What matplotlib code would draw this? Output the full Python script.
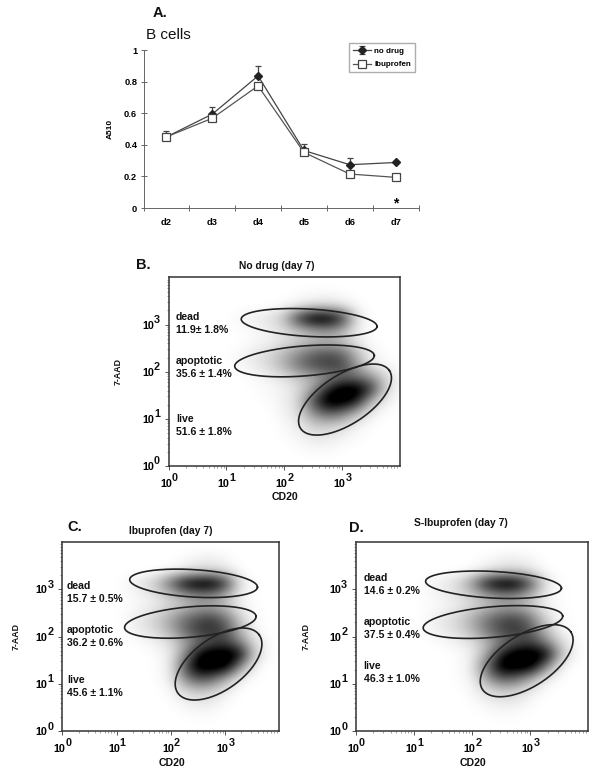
import numpy as np
import matplotlib
matplotlib.use('Agg')
import matplotlib.pyplot as plt
from matplotlib.ticker import FixedLocator, FixedFormatter
from matplotlib.transforms import ScaledTranslation

plt.rcParams['font.family'] = ['Liberation Sans', 'DejaVu Sans']
plt.rcParams['font.weight'] = 'bold'

W, H = 600, 777

# ---------- Panel A data ----------
days = ['d2', 'd3', 'd4', 'd5', 'd6', 'd7']
no_drug = [0.45, 0.594, 0.836, 0.364, 0.274, 0.288]
no_drug_err = [0.04, 0.048, 0.061, 0.04, 0.044, 0.0]
ibuprofen = [0.45, 0.568, 0.773, 0.352, 0.215, 0.194]

# ---------- Flow panels: density read on a grid (darkness 0..1) ----------
dens_x = [1.0, 1.25, 1.5, 1.75, 2.0, 2.25, 2.5, 2.75, 3.0, 3.25, 3.5, 3.75, 4.0]
dens_y = [3.88, 3.63, 3.38, 3.13, 2.88, 2.63, 2.38, 2.13, 1.88, 1.63, 1.38, 1.13, 0.88, 0.63, 0.38, 0.13]

density_b = [
    [0, 0, 0, 0, 0, 0, 0, 0, 0, 0, 0, 0, 0],
    [0, 0, 0, 0, 0, .01, .02, .02, .01, 0, 0, 0, 0],
    [0, 0, 0, 0, .02, .06, .12, .15, .10, .03, 0, 0, 0],
    [0, .03, .06, .10, .22, .72, 1.0, 1.0, .75, .10, 0, 0, 0],
    [0, .01, .03, .06, .12, .22, .32, .38, .28, .06, .01, 0, 0],
    [0, 0, .02, .04, .10, .16, .22, .25, .20, .08, .01, 0, 0],
    [0, .03, .08, .14, .25, .40, .55, .60, .55, .25, .04, .01, 0],
    [0, .03, .07, .14, .28, .48, .62, .68, .65, .35, .08, .03, 0],
    [0, 0, .02, .05, .10, .20, .28, .38, .50, .50, .38, .15, .02],
    [0, 0, .01, .02, .05, .12, .32, .75, 1.0, 1.0, .72, .15, .02],
    [0, 0, 0, .02, .05, .14, .62, 1.0, 1.0, .82, .25, .05, .01],
    [0, 0, 0, 0, .04, .12, .40, .58, .50, .25, .06, .01, 0],
    [0, 0, 0, 0, .02, .07, .18, .20, .14, .05, .01, 0, 0],
    [0, 0, 0, 0, .01, .04, .08, .08, .05, .02, 0, 0, 0],
    [0, 0, 0, 0, 0, .01, .03, .03, .01, 0, 0, 0, 0],
    [0, 0, 0, 0, 0, 0, 0, 0, 0, 0, 0, 0, 0],
]
density_c = [
    [0, 0, 0, 0, 0, 0, 0, 0, 0, 0, 0, 0, 0],
    [0, 0, 0, 0, 0, .02, .05, .06, .03, 0, 0, 0, 0],
    [0, 0, 0, 0, .03, .08, .14, .15, .10, .02, 0, 0, 0],
    [0, .04, .10, .24, .55, .90, 1.0, 1.0, .72, .12, .01, 0, 0],
    [0, .02, .05, .10, .20, .32, .42, .40, .26, .06, .01, 0, 0],
    [0, .01, .04, .08, .15, .22, .30, .30, .22, .06, .01, 0, 0],
    [0, .04, .10, .18, .32, .50, .62, .68, .50, .20, .03, 0, 0],
    [0, .03, .08, .15, .30, .52, .68, .72, .62, .28, .05, 0, 0],
    [0, 0, .02, .05, .12, .30, .48, .60, .65, .45, .14, .02, 0],
    [0, 0, 0, .02, .08, .38, .85, 1.0, 1.0, .92, .25, .02, 0],
    [0, 0, 0, .01, .08, .58, 1.0, 1.0, 1.0, .45, .06, 0, 0],
    [0, 0, 0, .01, .08, .42, .65, .58, .32, .08, .01, 0, 0],
    [0, 0, 0, 0, .03, .15, .22, .18, .08, .01, 0, 0, 0],
    [0, 0, 0, 0, .01, .05, .08, .07, .02, 0, 0, 0, 0],
    [0, 0, 0, 0, 0, .01, .02, .02, 0, 0, 0, 0, 0],
    [0, 0, 0, 0, 0, 0, 0, 0, 0, 0, 0, 0, 0],
]
density_d = [
    [0, 0, 0, 0, 0, 0, 0, 0, 0, 0, 0, 0, 0],
    [0, 0, 0, 0, 0, .02, .05, .06, .03, 0, 0, 0, 0],
    [0, 0, 0, 0, .03, .08, .14, .15, .10, .02, 0, 0, 0],
    [0, .03, .07, .14, .38, .85, 1.0, .98, .60, .10, .01, 0, 0],
    [0, .02, .05, .09, .18, .30, .42, .38, .24, .05, .01, 0, 0],
    [0, .01, .03, .07, .14, .22, .30, .30, .20, .05, .01, 0, 0],
    [0, .03, .08, .15, .28, .48, .62, .66, .48, .16, .02, 0, 0],
    [0, .03, .07, .13, .26, .48, .64, .70, .58, .24, .04, 0, 0],
    [0, 0, .02, .05, .10, .24, .44, .58, .65, .45, .15, .02, 0],
    [0, 0, 0, .01, .06, .30, .78, 1.0, 1.0, .95, .28, .02, 0],
    [0, 0, 0, .01, .07, .50, 1.0, 1.0, 1.0, .48, .06, 0, 0],
    [0, 0, 0, .01, .05, .35, .60, .55, .32, .08, .01, 0, 0],
    [0, 0, 0, 0, .03, .12, .20, .17, .08, .01, 0, 0, 0],
    [0, 0, 0, 0, .01, .05, .08, .07, .02, 0, 0, 0, 0],
    [0, 0, 0, 0, 0, .01, .02, .02, 0, 0, 0, 0, 0],
    [0, 0, 0, 0, 0, 0, 0, 0, 0, 0, 0, 0, 0],
]

decades = [0, 1, 2, 3]
decade_base = ['10', '10', '10', '10']
gate_names = ['dead', 'apoptotic', 'live']
labels_b = ['11.9\u00b1 1.8%', '35.6 \u00b1 1.4%', '51.6 \u00b1 1.8%']
labels_c = ['15.7 \u00b1 0.5%', '36.2 \u00b1 0.6%', '45.6 \u00b1 1.1%']
labels_d = ['14.6 \u00b1 0.2%', '37.5 \u00b1 0.4%', '46.3 \u00b1 1.0%']

# gate centres (log10 units)
gates_b = [(2.43, 3.04), (2.35, 2.23), (3.05, 1.41)]
gates_c = [(2.42, 3.13), (2.36, 2.31), (2.88, 1.42)]
gates_d = [(2.37, 3.10), (2.36, 2.31), (2.94, 1.49)]
# gate semi-axes and tilt (pixels, pixels, degrees)
shape_b = [(68, 13.7, -3.2), (70, 15, 4.5), (53, 24.7, 33)]
shape_c = [(64, 13.7, -3.5), (66, 15.2, 5.0), (50, 26, 35.7)]
shape_d = [(68, 13.3, -3.0), (70, 15.3, 5.0), (52.7, 26, 33)]

DARK = '#222222'


def rect(l, t, r, b):
    return [l / W, 1 - b / H, (r - l) / W, (b - t) / H]


def txt(x, y, s, size=7.6, weight='bold', ha='center', va='center', **kw):
    return fig.text(x / W, 1 - y / H, s, fontsize=size, fontweight=weight,
                    ha=ha, va=va, color='#111111', **kw)


fig = plt.figure(figsize=(W / 100, H / 100), dpi=100, facecolor='white')

# ---------- Panel A ----------
ax = fig.add_axes(rect(143.5, 50, 418.5, 208))
xs = np.arange(len(days)) + 0.5
h1 = ax.errorbar(xs, no_drug, yerr=[np.zeros(len(days)), no_drug_err], color='#444444',
                 lw=0.9, capsize=2.5, capthick=0.9, elinewidth=0.9, marker='D', ms=3.6,
                 mfc='#222222', mec='#222222', label='no drug', zorder=3)
h2, = ax.plot(xs, ibuprofen, color='#555555', lw=0.9, marker='s', ms=5.2, mfc='white',
              mec='#444444', mew=0.9, label='Ibuprofen', zorder=4)
ax.set_xlim(0, 6)
ax.set_ylim(0, 1)
ax.set_xticks(range(7))
ax.set_xticklabels([])
ax.set_xticks(xs, minor=True)
ax.set_xticklabels(days, minor=True, fontsize=6.7, fontweight='bold')
ax.tick_params(axis='x', which='minor', length=0, pad=7)
ax.tick_params(axis='x', which='major', length=4, width=0.7, direction='inout', color='#666666')
ax.set_yticks([0, 0.2, 0.4, 0.6, 0.8, 1])
ax.set_yticklabels(['0', '0.2', '0.4', '0.6', '0.8', '1'], fontsize=6.7, fontweight='bold')
ax.tick_params(axis='y', length=5, width=0.7, direction='inout', color='#666666', pad=2)
for s in ('top', 'right'):
    ax.spines[s].set_visible(False)
for s in ('left', 'bottom'):
    ax.spines[s].set_linewidth(0.7)
    ax.spines[s].set_color('#666666')
ax.set_ylabel('A510', fontsize=6, fontweight='bold')
ax.yaxis.set_label_coords((114 - 143.5) / 275, 0.5)
leg = ax.legend(handles=[h1, h2], loc='upper left',
                bbox_to_anchor=((348.5 - 143.5) / 275, (208 - 43) / 158),
                frameon=True, fancybox=False, edgecolor='#999999',
                borderaxespad=0, borderpad=0.5, labelspacing=0.75, handlelength=2.3,
                handletextpad=0.4, prop={'weight': 'bold', 'size': 5.8})
leg.get_frame().set_linewidth(1.0)
ax.text(xs[5], 0.03, '*', fontsize=10, fontweight='bold', ha='center', va='center')
txt(160, 13, 'A.', size=10.5, ha='center')
txt(146, 35, 'B cells', size=11, weight='normal', ha='left')


# ---------- Flow panels ----------
def flow(box, density, centres, shapes, stats, title, title_xy, letter, letter_xy,
         text_x, text_ys, ylab_x, xlab_y):
    l, t, r, b = box
    a = fig.add_axes(rect(l, t, r, b))
    step_x = dens_x[1] - dens_x[0]
    step_y = dens_y[0] - dens_y[1]
    a.imshow(density, cmap='gray_r', vmin=0, vmax=0.88, interpolation='bicubic', aspect='auto',
             extent=[dens_x[0] - step_x / 2, dens_x[-1] + step_x / 2,
                     dens_y[-1] - step_y / 2, dens_y[0] + step_y / 2])
    a.set_xlim(0, 4)
    a.set_ylim(0, 4)
    sx, sy = 4 / (r - l), 4 / (b - t)
    t_par = np.linspace(0, 2 * np.pi, 200)
    for (cx, cy), (pa, pb, ang) in zip(centres, shapes):
        th = np.radians(ang)
        a.plot(cx + (pa * np.cos(t_par) * np.cos(th) - pb * np.sin(t_par) * np.sin(th)) * sx,
               cy + (pa * np.cos(t_par) * np.sin(th) + pb * np.sin(t_par) * np.cos(th)) * sy,
               color=DARK, lw=1.2)
    minor = [d + np.log10(k) for d in range(4) for k in range(2, 10)]
    for axis in (a.xaxis, a.yaxis):
        axis.set_major_locator(FixedLocator(decades))
        axis.set_minor_locator(FixedLocator(minor))
        axis.set_major_formatter(FixedFormatter(decade_base))
    a.tick_params(which='major', length=3, width=0.7, labelsize=7.8, direction='out',
                  color='#555555')
    a.tick_params(axis='x', which='major', pad=6.5)
    a.tick_params(axis='y', which='major', pad=7.5)
    a.tick_params(which='minor', length=1.6, width=0.5, direction='out', color='#777777')
    shift = ScaledTranslation(3.3 / 100, 0, fig.dpi_scale_trans)
    for lab in a.get_xticklabels():
        lab.set_ha('right')
        lab.set_transform(lab.get_transform() + shift)
    for d in decades:
        a.annotate(str(d), xy=(d, 0), xycoords=('data', 'axes fraction'),
                   xytext=(3.3, -12), textcoords='offset pixels', fontsize=7.8,
                   fontweight='bold', ha='left', va='center', color='#111111')
        a.annotate(str(d), xy=(0, d), xycoords=('axes fraction', 'data'),
                   xytext=(-14.5, 4.5), textcoords='offset pixels', fontsize=7.8,
                   fontweight='bold', ha='left', va='center', color='#111111')
    for s in a.spines.values():
        s.set_linewidth(1.1)
        s.set_color('#333333')
    txt(title_xy[0], title_xy[1], title, size=7.4)
    txt(letter_xy[0], letter_xy[1], letter, size=10.5)
    for name, stat, y in zip(gate_names, stats, text_ys):
        txt(text_x, y, name, ha='left')
        txt(text_x, y + 13, stat, ha='left')
    txt(ylab_x, (t + b) / 2, '7-AAD', size=6.3, rotation=90)
    txt((l + r) / 2 + 1, xlab_y, 'CD20', size=7.6)


flow((168.5, 277.5, 400, 466), density_b, gates_b, shape_b, labels_b,
     'No drug (day 7)', (277, 266), 'B.', (143, 265), 176, (317, 361, 419), 118, 497)
flow((62.3, 542.3, 279.3, 731), density_c, gates_c, shape_c, labels_c,
     'Ibuprofen (day 7)', (171, 531), 'C.', (75, 527), 67, (586, 630, 680), 16, 763)
flow((355.7, 542.3, 588.3, 731), density_d, gates_d, shape_d, labels_d,
     'S-Ibuprofen (day 7)', (461, 523), 'D.', (356, 528), 363.5, (578, 622, 666), 306, 763)

fig.savefig('out.png', dpi=100, facecolor='white')
